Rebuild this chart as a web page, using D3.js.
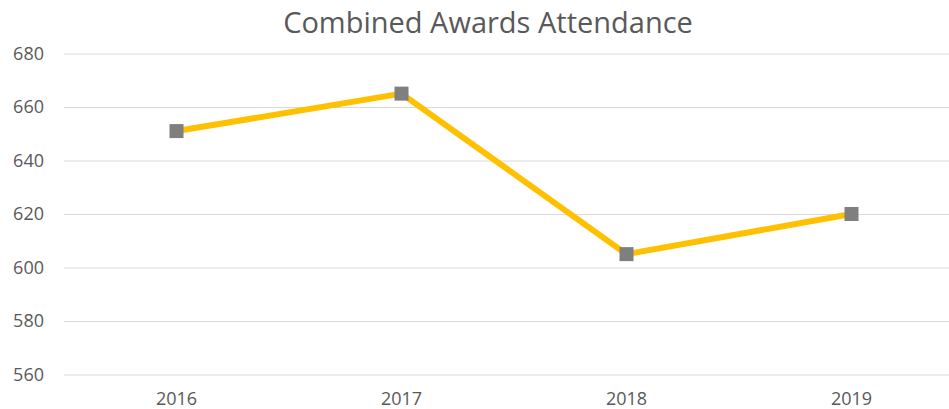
<!DOCTYPE html>
<html>
<head>
<meta charset="utf-8">
<script src="https://cdn.jsdelivr.net/npm/d3@7"></script>
<style>
    body { margin: 0; background: #fff; }
    text { font-family: "Open Sans", sans-serif; fill: #595959; }
</style>
</head>
<body>
<svg width="949" height="409"></svg>
<script>
const years = ['2016', '2017', '2018', '2019'];
const attendance = [651, 665, 605, 620];
const yTicks = [560, 580, 600, 620, 640, 660, 680];

const svg = d3.select('svg'),
        width = +svg.attr('width'),
        height = +svg.attr('height');

const margin = { top: 53.5, left: 64, bottom: 374.5 };

const x = d3.scaleBand()
        .domain(years)
        .range([margin.left, margin.left + 900]);

const y = d3.scaleLinear()
        .domain([560, 680])
        .range([margin.bottom, margin.top]);

svg.append('text')
        .attr('x', 488)
        .attr('y', 33)
        .attr('text-anchor', 'middle')
        .attr('font-size', 29)
        .text('Combined Awards Attendance');

// gridlines + y labels
const yAxis = svg.append('g')
        .attr('transform', `translate(${margin.left},0)`)
        .call(d3.axisLeft(y).tickValues(yTicks).tickSize(-900).tickPadding(20));
yAxis.select('.domain').remove();
yAxis.selectAll('line').attr('stroke', '#d9d9d9');
yAxis.selectAll('text')
        .attr('font-size', 18)
        .attr('fill', '#595959')
        .attr('font-family', '"Open Sans", sans-serif');

const xAxis = svg.append('g')
        .attr('transform', `translate(0,${margin.bottom})`)
        .call(d3.axisBottom(x).tickSize(0).tickPadding(18));
xAxis.select('.domain').remove();
xAxis.selectAll('text')
        .attr('font-size', 18)
        .attr('fill', '#595959')
        .attr('font-family', '"Open Sans", sans-serif');

const pts = years.map((yr, i) => ({ yr, v: attendance[i] }));

svg.append('path')
        .datum(pts)
        .attr('fill', 'none')
        .attr('stroke', '#ffc000')
        .attr('stroke-width', 6)
        .attr('stroke-linejoin', 'round')
        .attr('d', d3.line()
                .x(d => x(d.yr) + x.bandwidth() / 2)
                .y(d => y(d.v)));

const size = 14;
svg.append('g')
        .selectAll('rect')
        .data(pts)
        .enter()
        .append('rect')
        .attr('x', d => x(d.yr) + x.bandwidth() / 2 - size / 2)
        .attr('y', d => y(d.v) - size / 2)
        .attr('width', size)
        .attr('height', size)
        .attr('fill', '#7f7f7f');
</script>
</body>
</html>
